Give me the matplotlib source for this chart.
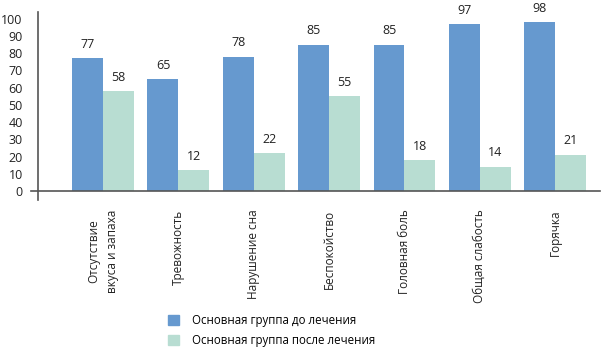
import numpy as np
import matplotlib.pyplot as plt
from matplotlib.patches import Patch

categories = ["Отсутствие\nвкуса и запаха", "Тревожность", "Нарушение сна",
              "Беспокойство", "Головная боль", "Общая слабость", "Горячка"]
before = [77, 65, 78, 85, 85, 97, 98]
after = [58, 12, 22, 55, 18, 14, 21]
series_names = ["Основная группа до лечения", "Основная группа после лечения"]

blue = "#6699cf"
teal = "#b8ddd2"
axis_col = "#555555"

plt.rcParams['font.family'] = ['Open Sans', 'DejaVu Sans']

fig = plt.figure(figsize=(6.08, 3.52), dpi=100)
ax = fig.add_axes([0.0625, 0.432, 0.925, 0.534])

x = np.arange(len(categories))
w = 0.41
b1 = ax.bar(x - w / 2, before, w, color=blue)
b2 = ax.bar(x + w / 2, after, w, color=teal)

for bars, vals in ((b1, before), (b2, after)):
    for r, v in zip(bars, vals):
        ax.text(r.get_x() + r.get_width() / 2, v + 4.3, str(v),
                ha='center', va='bottom', fontsize=9, color='#222222')

ax.set_xlim(-0.863, 6.60)
ax.set_ylim(-5.2, 104)
ax.set_yticks(range(0, 101, 10))
ax.tick_params(axis='y', length=0, labelsize=9, pad=11, colors='#222222')
ax.tick_params(axis='x', length=0, pad=7)
ax.set_xticks(x)
ax.set_xticklabels(categories, rotation=90, fontsize=8.5, ha='center',
                   va='top', multialignment='center', color='#222222',
                   linespacing=1.6)

for s in ('top', 'right', 'bottom'):
    ax.spines[s].set_visible(False)
ax.spines['left'].set_color(axis_col)
ax.spines['left'].set_linewidth(1.2)
ax.axhline(0, xmin=-0.012, xmax=1, color=axis_col, lw=1.2, clip_on=False)

handles = [Patch(color=blue), Patch(color=teal)]
fig.legend(handles, series_names, loc='upper left',
           bbox_to_anchor=(0.268, 0.121), frameon=False, fontsize=8.3,
           handlelength=1.0, handleheight=1.0, handletextpad=1.1,
           labelspacing=0.6, borderaxespad=0)

fig.savefig("out.png", dpi=100)
